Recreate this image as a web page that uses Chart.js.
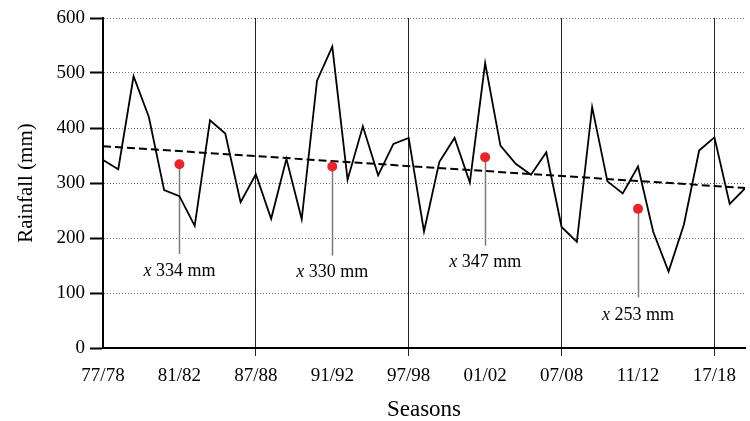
<!DOCTYPE html>
<html lang="en">
<head>
<meta charset="UTF-8">
<title>Rainfall by season</title>
<style>
  html, body { margin: 0; padding: 0; background: #fff; }
</style>
</head>
<body>
<canvas id="myChart" width="750" height="421"></canvas>

<script src="https://cdn.jsdelivr.net/npm/chart.js"></script>
<script>
// seasonal rainfall, one value per season starting 77/78
const rainfall = [342, 325, 494, 420, 287, 276, 222, 414, 390, 265,
                  316, 235, 344, 234, 486, 548, 306, 403, 314, 371,
                  382, 212, 338, 382, 301, 518, 368, 335, 315, 356,
                  220, 193, 438, 303, 281, 330, 211, 139, 224, 359,
                  383, 262, 290];
const tickIndex = [0, 5, 10, 15, 20, 25, 30, 35, 40];
const tickLabels = ['77/78', '81/82', '87/88', '91/92', '97/98', '01/02', '07/08', '11/12', '17/18'];
const trendStart = 367;
const trendEnd = 291;
// decade means (red dots)
const meanIndex = [5, 15, 25, 35];
const meanValues = [334, 330, 347, 253];

// where each mean's leader line ends and its label sits (in mm)
const leaderEnd = [171, 168, 186, 92];
const labelAt = [139, 137, 155, 60];

const serif = '"Liberation Serif", "Times New Roman", serif';

const lastIdx = rainfall.length - 1;

const meanNotes = {
    id: 'meanNotes',
    beforeDatasetsDraw(chart) {
        const ctx = chart.ctx;
        const xs = chart.scales.x, ys = chart.scales.y;
        ctx.save();
        ctx.strokeStyle = '#7a7a7a';
        ctx.lineWidth = 1.5;
        meanIndex.forEach((idx, i) => {
            const px = Math.round(xs.getPixelForValue(idx)) + 0.5;
            ctx.beginPath();
            ctx.moveTo(px, ys.getPixelForValue(meanValues[i]));
            ctx.lineTo(px, ys.getPixelForValue(leaderEnd[i]));
            ctx.stroke();
        });
        ctx.restore();
    },
    afterDatasetsDraw(chart) {
        const ctx = chart.ctx;
        const xs = chart.scales.x, ys = chart.scales.y;
        ctx.save();
        ctx.fillStyle = '#000';
        ctx.textBaseline = 'middle';
        ctx.textAlign = 'left';
        meanIndex.forEach((idx, i) => {
            const px = xs.getPixelForValue(idx);
            const py = ys.getPixelForValue(labelAt[i]);
            const a = 'x';
            const b = ' ' + meanValues[i] + ' mm';
            ctx.font = 'italic 18px ' + serif;
            const wa = ctx.measureText(a).width;
            ctx.font = '18px ' + serif;
            const wb = ctx.measureText(b).width;
            let x0 = px - (wa + wb) / 2;
            ctx.font = 'italic 18px ' + serif;
            ctx.fillText(a, x0, py);
            ctx.font = '18px ' + serif;
            ctx.fillText(b, x0 + wa, py);
        });
        ctx.restore();
    }
};

const xGridColor = (c) => (c.tick && c.tick.value > 0 && c.tick.value % 10 === 0) ? '#222' : 'rgba(0,0,0,0)';

new Chart(document.getElementById('myChart'), {
    type: 'line',
    data: {
        datasets: [
            {
                label: 'means',
                data: meanIndex.map((v, i) => ({ x: v, y: meanValues[i] })),
                showLine: false,
                pointRadius: 5,
                pointBackgroundColor: '#e8242c',
                pointBorderWidth: 0,
                order: 0
            },
            {
                label: 'trend',
                data: [{ x: 0, y: trendStart }, { x: lastIdx, y: trendEnd }],
                borderColor: '#000',
                borderWidth: 2,
                borderDash: [8, 4],
                pointRadius: 0,
                order: 1
            },
            {
                label: 'Rainfall',
                data: rainfall.map((v, i) => ({ x: i, y: v })),
                borderColor: '#000',
                borderWidth: 1.8,
                pointRadius: 0,
                tension: 0,
                order: 2
            }
        ]
    },
    options: {
        responsive: false,
        animation: false,
        devicePixelRatio: 1,
        layout: { padding: { top: 18, right: 3, left: 0, bottom: 0 } },
        plugins: {
            legend: { display: false },
            tooltip: { enabled: false }
        },
        scales: {
            x: {
                type: 'linear',
                min: 0,
                max: lastIdx,
                afterBuildTicks: (s) => { s.ticks = tickIndex.map(v => ({ value: v })); },
                afterFit: (s) => { s.height = 73; },
                ticks: {
                    autoSkip: false,
                    maxRotation: 0,
                    padding: 9,
                    color: '#000',
                    font: { family: serif, size: 19 },
                    callback: (v) => tickLabels[tickIndex.indexOf(v)]
                },
                grid: {
                    color: xGridColor,
                    tickColor: xGridColor,
                    lineWidth: 1,
                    tickLength: 8
                },
                border: { color: '#000', width: 2 },
                title: {
                    display: true,
                    text: 'Seasons',
                    color: '#000',
                    font: { family: serif, size: 23, lineHeight: 1 },
                    padding: { top: 0, bottom: 0 }
                }
            },
            y: {
                min: 0,
                max: 600,
                afterFit: (s) => { s.width = 103; },
                ticks: {
                    stepSize: 100,
                    padding: 5,
                    color: '#000',
                    font: { family: serif, size: 19 }
                },
                grid: {
                    color: '#777',
                    lineWidth: 1,
                    tickColor: '#000',
                    tickWidth: 2,
                    tickLength: 13,
                    tickBorderDash: []
                },
                border: { color: '#000', width: 2, dash: [1, 2] },
                title: {
                    display: true,
                    text: 'Rainfall (mm)',
                    color: '#000',
                    font: { family: serif, size: 21 },
                    padding: { top: 14, bottom: 0 }
                }
            }
        }
    },
    plugins: [meanNotes]
});
</script>
</body>
</html>
